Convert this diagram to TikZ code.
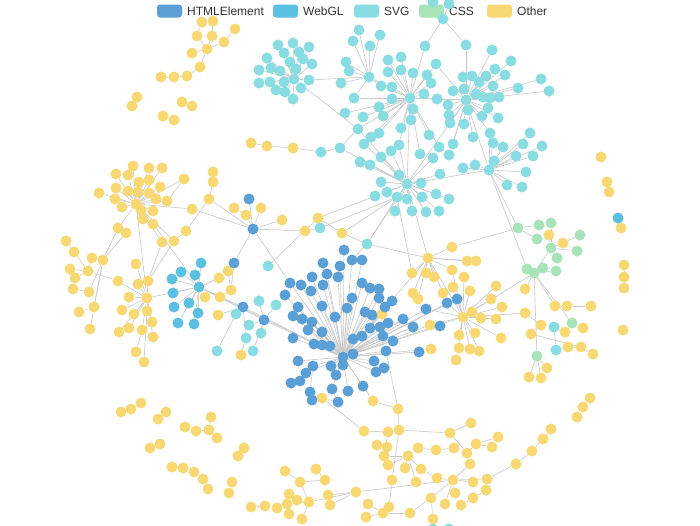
\documentclass[tikz,border=0pt]{standalone}
\usepackage{fontspec}
\setmainfont{Liberation Sans}
\usetikzlibrary{backgrounds}
\definecolor{chtml}{HTML}{5A9FD5}
\definecolor{cwebgl}{HTML}{5CC0E3}
\definecolor{csvg}{HTML}{89DCE2}
\definecolor{ccss}{HTML}{A9E3BA}
\definecolor{cother}{HTML}{F8D873}
\definecolor{linkgray}{HTML}{C8C8C8}
\definecolor{txtgray}{HTML}{333333}
\tikzset{
  nd/.style={circle,inner sep=0pt,minimum size=11pt},
  oth/.style={nd,fill=cother},
  htm/.style={nd,fill=chtml},
  wgl/.style={nd,fill=cwebgl},
  svgn/.style={nd,fill=csvg},
  cssn/.style={nd,fill=ccss},
  lk/.style={draw=linkgray,line width=0.6pt},
  legbox/.style={rounded corners=3pt,minimum width=25pt,minimum height=13pt,inner sep=0pt},
  legtxt/.style={anchor=west,inner sep=0pt,text=txtgray,font=\fontsize{12}{14}\selectfont}
}
\begin{document}
\begin{tikzpicture}[x=1pt,y=-1pt]
\path[use as bounding box] (0,0) rectangle (700,525);
% legend
\foreach \x/\c/\t in {157/chtml/HTMLElement,273/cwebgl/WebGL,354/csvg/SVG,419/ccss/CSS,487/cother/Other}{
  \node[legbox,fill=\c] (lb\t) at (\x+12.5,11) {};
  \node[legtxt] (lt\t) at (\x+30,11.5) {\t};
}
% Other (yellow)
\foreach \n/\x/\y in {
A1/202/22,A2/213/21,A3/197/36,A4/212/36,A5/235/29,A6/224/42,A7/207/49,A8/192/53,A9/200/67,A10/187/76,A11/174/77,A12/161/77,
B1/137/97,B2/132/106,B3/182/102,B4/192/106,B5/163/116,B6/174/120,
X1/251/143,X2/267/146,X3/293/148,
L0/136/204,L1/133/166,L2/149/168,L3/162/168,L4/116/174,L5/128/175,L6/139/182,L7/149/180,L8/160/187,L9/184/179,L10/99/193,L11/116/188,L12/128/191,L13/138/192,L14/149/193,L15/156/199,L16/167/201,L17/115/199,L18/122/207,L19/141/210,L20/153/211,L21/143/219,L22/153/224,L23/192/209,L24/118/228,L25/126/233,L26/162/242,L27/174/241,L28/186/231,L29/209/199,L30/213/182,L31/213/172,
K1/66/241,K2/74/252,K3/92/258,K4/103/260,K5/88/271,K6/70/269,K7/75/278,K8/73/289,K9/89/292,K10/94/307,K11/79/312,K12/90/329,
P0/147/298,P1/136/264,P2/148/281,P3/138/284,P4/118/281,P5/129/297,P6/122/310,P7/134/314,P8/147/311,P9/152/322,P10/129/328,P11/119/332,P12/142/330,P13/153/337,P14/136/352,P15/144/362,
Y1/205/297,Y2/219/278,Y3/228/271,Y4/231/290,Y5/220/297,Y6/218/315,Y7/234/208,Y8/246/215,Y9/261/208,Y10/282/220,Y11/305/231,Y12/318/218,Y13/342/233,Y14/241/355,Y15/382/314,Y16/322/398,Y17/373/401,Y19/431/349,Y20/430/325,Y21/549/235,Y22/563/243,Y23/525/289,Y24/555/306,Y25/567/306,Y26/591/306,Y27/525/313,Y28/541/325,Y29/565/332,Y30/583/328,Y31/531/334,Y32/568/347,Y33/581/347,Y34/593/354,Y35/547/368,Y36/529/377,Y37/541/378,
R0/428/258,R1/452/247,R2/467/261,R3/476/261,R4/412/273,R5/426/273,R6/434/277,R7/452/270,R8/464/277,R9/453/287,R10/470/291,R11/496/286,R12/413/293,R13/418/299,R14/443/293,R15/491/299,R16/502/307,R17/472/312,R18/481/318,R19/496/319,R20/459/335,R21/475/333,R22/501/338,R23/459/348,R24/470/349,R25/479/351,R26/456/360,Q0/463/317,
Z1/601/157,Z2/607/182,Z3/609/192,Z4/621/228,Z5/624/265,Z6/624/277,Z7/624/288,Z8/623/330,
E1/121/412,E2/131/409,E3/141/403,E4/158/419,E5/166/412,E6/185/427,E7/196/431,E8/209/430,E9/211/417,E10/217/438,E11/150/448,E12/160/444,E13/244/448,E14/238/456,E15/172/467,E16/183/468,E17/194/472,E18/203/479,E19/208/489,E20/232/482,E21/229/493,
F1/251/507,F2/265/506,F3/277/508,F4/287/504,F5/289/494,F6/297/500,F7/289/514,F8/302/519,F9/309/502,F10/285/471,F11/300/482,F12/316/469,F13/325/480,F14/328/495,F15/330/505,F16/356/492,F17/368/504,F18/366/517,F19/383/513,F20/389/507,F21/410/513,F22/433/519,
V1/398/409,V2/364/431,V3/388/432,V4/399/430,V5/377/445,V6/387/447,V7/384/456,V8/388/465,V9/408/456,V10/418/448,V11/405/468,V12/421/469,V13/392/480,V14/416/482,V15/437/478,V16/450/433,V17/471/423,V18/454/448,V19/436/450,V20/467/453,V21/476/444,V22/492/447,V23/498/437,V24/470/464,V25/453/480,V26/473/482,V27/487/479,V28/486/490,V29/473/498,V30/461/505,V31/445/504,V32/455/493,V33/431/498,V34/516/464,V35/532/451,V36/543/439,V37/551/429,V38/577/417,V39/583/407,V40/590/398}
  \node[oth] (\n) at (\x,\y) {};
% HTMLElement
\foreach \n/\x/\y in {
H0/343/357,H1/344/250,H2/323/263,H3/340/266,H4/352/260,H5/362/260,H6/312/277,H7/327/274,H8/338/277,H9/290/283,H10/301/285,H11/323/285,H12/311/291,H13/362/283,H14/370/288,H15/379/289,H16/285/295,H17/352/298,H18/379/298,H19/392/301,H20/298/307,H21/322/306,H22/347/308,H23/385/307,H24/293/316,H25/302/319,H26/335/317,H27/365/312,H28/372/315,H29/403/319,H30/388/323,H31/312/322,H32/308/330,H33/322/332,H34/370/328,H35/380/327,H36/413/327,H37/293/338,H38/353/339,H39/362/336,H40/383/336,H41/393/341,H42/314/344,H43/322/345,H44/330/346,H45/353/354,H46/386/351,H47/298/361,H48/313/366,H49/331/366,H50/343/365,H51/374/361,H52/384/368,H53/306/373,H54/336/375,H55/376/372,H56/419/352,H57/300/381,H58/291/383,H59/310/392,H60/332/389,H61/348/391,H62/363/386,H63/312/400,H64/338/402,H65/440/326,H66/426/309,H67/447/303,H68/457/299,
M0/253/229,M1/234/263,M2/243/307,M3/249/199,M4/264/320}
  \node[htm] (\n) at (\x,\y) {};
% WebGL
\foreach \n/\x/\y in {W0/199/287,W1/201/263,W2/181/272,W3/195/275,W4/172/279,W5/173/293,W6/189/303,W7/174/307,W8/198/313,W9/178/323,W10/194/324,G1/618/218}
  \node[wgl] (\n) at (\x,\y) {};
% SVG
\foreach \n/\x/\y in {
S1/320/228,S2/367/244,S3/268/266,S4/259/301,S5/276/305,S6/236/314,S7/249/325,S8/261/333,S9/246/338,S10/253/351,S11/217/351,S12/554/327,S13/556/350,S14/433/529,S15/449/529,
T0/294/79,Ta1/278/45,Ta2/293/43,Ta3/309/47,Ta4/267/58,Ta5/284/53,Ta6/299/52,Ta7/303/59,Ta8/312/64,Ta9/259/70,Ta10/271/68,Ta11/280/71,Ta12/290/62,Ta13/296/69,Ta14/259/83,Ta15/270/82,Ta16/284/82,Ta17/309/80,Ta18/276/90,Ta19/285/92,Ta20/301/88,Ta21/293/99,
T1/369/77,Tb1/359/30,Tb2/380/35,Tb3/353/41,Tb4/370/46,Tb5/346/62,Tb6/349/71,Tb7/341/83,
Tc1/433/2,Tc2/449/4,Tc3/443/19,Tc4/425/46,Tc5/466/45,
T2/466/100,Td1/492/50,Td2/511/61,Td3/541/79,Td4/549/91,Td5/518/88,Td6/505/75,Td7/495/69,Td8/486/76,Td9/472/76,Td10/463/77,Td11/479/82,Td12/493/86,Td13/453/91,Td14/464/89,Td16/476/94,Td17/483/97,Td18/490/98,Td19/499/97,Td20/468/110,Td21/488/108,Td22/482/116,Td23/498/118,Td24/450/123,Td25/464/124,Td26/448/105,Td27/449/115,
T5/410/98,Te1/388/60,Te2/401/57,Te3/388/72,Te4/401/70,Te5/413/73,Te6/427/75,Te7/436/64,Te8/431/83,Te9/381/86,Te10/392/87,Te11/392/99,Te12/413/109,Te13/424/94,Te14/437/99,Te15/383/116,Te16/363/117,Te17/379/107,Te18/411/120,Te19/401/128,Te20/358/129,Te21/379/133,Te22/371/137,Te23/429/135,Te24/345/113,Te25/354/98,
Th1/340/148,Th2/321/152,Th3/364/144,Th4/399/145,Th5/391/151,Th6/420/154,Th7/433/158,Th8/449/155,Th9/360/162,Th10/370/165,Th11/381/157,Th12/439/147,Th13/453/144,Th14/473/137,Th15/490/133,Th16/530/133,
T3/489/170,Tf1/463/168,Tf2/475/165,Tf3/494/161,Tf4/503/147,Tf5/523/144,Tf6/542/146,Tf7/516/156,Tf8/533/156,Tf9/526/172,Tf10/507/185,Tf11/522/187,Tf12/493/143,
T4/407/184,Tg1/399/175,Tg2/381/182,Tg3/421/183,Tg4/375/196,Tg5/387/192,Tg6/397/197,Tg7/407/199,Tg8/422/197,Tg9/436/194,Tg10/449/199,Tg11/395/211,Tg12/412/211,Tg13/426/212,Tg14/439/211,Tg15/440/174}
  \node[svgn] (\n) at (\x,\y) {};
% CSS
\foreach \n/\x/\y in {C0/518/228,C1/539/225,C2/551/223,C3/537/239,C4/580/235,C5/551/248,C6/577/251,C7/557/258,C8/527/269,C9/543/268,C10/534/273,C11/556/271,C12/572/323,C13/537/356}
  \node[cssn] (\n) at (\x,\y) {};
% links
\begin{scope}[on background layer]
\fill[white] (0,0) rectangle (700,525);
% stars
\foreach \i in {1,...,21} \draw[lk] (T0) -- (Ta\i);
\foreach \i in {1,...,7} \draw[lk] (T1) -- (Tb\i);
\foreach \i in {1,...,14,16,17,18,19,20,21,22,23,24,25,26,27} \draw[lk] (T2) -- (Td\i);
\foreach \i in {1,...,25} \draw[lk] (T5) -- (Te\i);
\foreach \i in {1,...,12} \draw[lk] (T3) -- (Tf\i);
\foreach \i in {1,...,15} \draw[lk] (T4) -- (Tg\i);
\foreach \i in {1,...,22} \draw[lk] (L0) -- (L\i);
\foreach \i in {1,...,13} \draw[lk] (P0) -- (P\i);
\foreach \i in {1,...,10} \draw[lk] (W0) -- (W\i);
\foreach \i in {1,...,55} \draw[lk] (H0) -- (H\i);
\foreach \i in {8,9,10,11,15,16,17,18,19,20,21,22,23,24,25,26} \draw[lk] (Q0) -- (R\i);
\foreach \i in {1,...,7,12,13,14} \draw[lk] (R0) -- (R\i);
% pairs
\foreach \a/\b in {
A1/A3,A2/A4,A3/A7,A4/A7,A5/A6,A6/A7,A8/A7,A7/A9,A9/A10,A10/A11,A11/A12,B1/B2,B3/B4,B5/B6,
X1/X2,X2/X3,X3/Th2,Th2/Th1,Th1/Te20,Te20/T0,
Ta17/T1,T1/T5,T1/Te9,T1/Te25,
Tc1/Tc3,Tc2/Tc3,Tc3/Tc4,Tc3/Tc5,Tc4/T5,Tc5/T2,
T2/T5,T2/T3,T2/T4,T2/Te7,T2/Te14,T2/Th13,T2/Th14,T2/Th15,T2/Th8,
T5/Th4,T5/Th6,T5/T4,T5/Th12,
T3/Th16,T3/T4,T3/C0,T3/C8,T3/Th15,
T4/Th1,T4/Th3,T4/Th5,T4/Th7,T4/Th9,T4/Th10,T4/Th11,T4/Te20,T4/S2,T4/R0,T4/Th4,
Tg6/S2,Tg6/Y13,Tg6/R4,S2/R0,
L9/L16,L0/L23,L23/M0,L29/L30,L30/L31,L29/M0,L29/L28,L28/L27,L0/L26,L0/L27,L0/L24,L24/L25,L25/K4,L24/K4,L0/P0,L22/W0,
K1/K2,K2/K5,K3/K4,K3/K5,K6/K5,K7/K5,K5/P4,K4/K9,K4/K10,K4/K12,K8/K9,K11/K10,
P12/P14,P8/P15,P2/L26,P2/L27,P0/W0,
W0/Y1,W0/Y2,W0/M2,W0/M4,W0/H0,
Y3/Y4,Y5/Y4,Y4/M1,Y6/M2,M0/M1,M0/M3,M0/Y8,Y8/Y7,M0/Y9,M0/Y10,M0/Y11,Y11/S1,Y12/Y13,Y13/S2,S1/Tg6,Y12/Tg4,S3/Y12,M0/H9,
M2/S6,M2/S9,S6/S11,S9/Y14,M4/S4,M4/S5,M4/S7,M4/S8,M4/S10,M4/H0,M2/H0,S2/H4,
H53/H57,H53/H58,H48/H59,H0/H60,H0/H61,H0/H62,H59/H63,H60/H64,H64/Y16,Y16/V2,H0/Y17,Y17/V1,V1/H46,
H0/R0,H0/Q0,H0/Y20,H0/Y19,H0/H65,H0/H66,H0/H67,H0/H68,H0/H56,H0/H29,H0/H36,Y15/H0,
Q0/H66,Q0/H67,Q0/H68,Q0/R7,Q0/Y20,Q0/C10,R0/Q0,R1/C0,Y27/Q0,
C0/C1,C0/C3,C2/C5,C5/Y21,C5/Y22,Y22/C4,C5/C6,C5/C7,C5/C10,C10/C8,C10/C9,C10/C11,
C10/Y23,C10/Y24,Y24/Y25,Y25/Y26,C10/C13,C10/C12,C12/Y29,C12/Y30,Y29/S12,Y27/Y28,Y28/Y31,Y31/Y33,S12/S13,S13/Y32,Y32/Y33,Y33/Y34,C13/Y35,C13/Y36,C13/Y37,
Z2/Z3,G1/Z4,Z5/Z6,Z6/Z7,
E1/E2,E2/E3,E4/E5,E6/E7,E7/E8,E8/E9,E8/E10,E11/E12,E13/E14,E15/E16,E16/E17,E17/E18,E18/E19,E20/E21,
F1/F2,F2/F3,F3/F4,F5/F6,F4/F9,F6/F9,F7/F4,F8/F9,F10/F11,F11/F9,F11/F13,F12/F13,F9/F16,F14/F16,F15/F16,F16/V25,F17/F19,F18/F19,F20/F19,F19/F21,F20/V13,F21/V33,F22/V33,F22/S14,
V2/V3,V1/V4,V4/V16,V16/V17,V4/V13,V3/V7,V5/V6,V7/V9,V8/V9,V9/V10,V10/V19,V19/V18,V9/V11,V9/V12,V12/V15,V14/V9,V15/V25,V16/V20,V20/V21,V21/V23,V21/V22,V20/V24,V25/V24,V25/V26,V25/V27,V27/V28,V28/V29,V29/V30,V25/V32,V25/V33,V25/V31,V27/V34,V34/V35,V35/V36,V36/V37,V38/V39,V39/V40}
  \draw[lk] (\a) -- (\b);
\end{scope}
\end{tikzpicture}
\end{document}
